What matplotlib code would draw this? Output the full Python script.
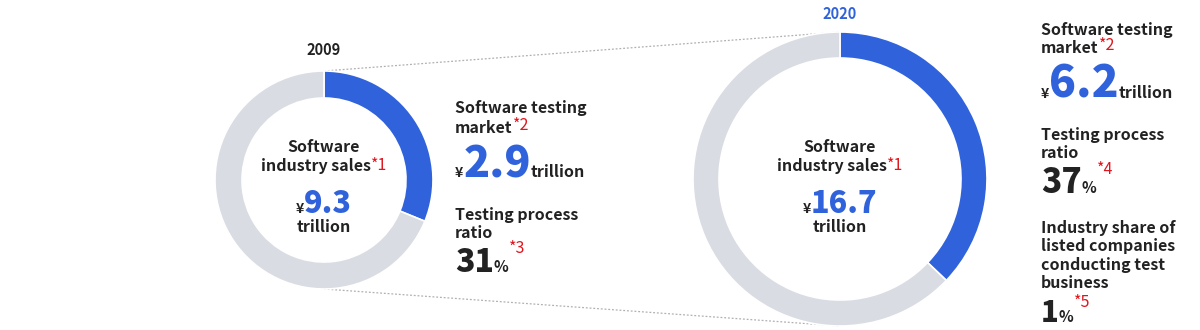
import matplotlib
matplotlib.use("Agg")
import matplotlib.pyplot as plt

plt.rcParams['font.family'] = ['Noto Sans CJK JP', 'DejaVu Sans']

# --- data ---
years = ['2009', '2020']
industry_sales = [9.3, 16.7]       # trillion yen
testing_market = [2.9, 6.2]        # trillion yen
testing_ratio = [31, 37]           # %
listed_share = 1                   # %

BLUE = '#3063DB'
GRAY = '#D9DCE3'
DARK = '#222222'
RED = '#E0161E'

fig = plt.figure(figsize=(12, 3.3), dpi=100)
ax = fig.add_axes([0, 0, 1, 1])

H = 330
centers = [(324, H - 180), (840, H - 179)]
radii = [109, 147]
rings = [27, 26]

for i in range(2):
    share = testing_market[i]
    rest = industry_sales[i] - testing_market[i]
    ax.pie([share, rest], colors=[BLUE, GRAY], startangle=90, counterclock=False,
           center=centers[i], radius=radii[i],
           wedgeprops=dict(width=rings[i], edgecolor='white', linewidth=1.2))

ax.set_xlim(0, 1200)
ax.set_ylim(0, H)
ax.set_aspect('equal')
ax.axis('off')

# dotted connectors between the two donuts
for sgn in (1, -1):
    ax.plot([centers[0][0], centers[1][0]],
            [centers[0][1] + sgn * radii[0], centers[1][1] + sgn * radii[1]],
            color='#B0B0B0', lw=0.9, ls=(0, (1.5, 1.5)), zorder=0)

ax.text(centers[0][0], H - 50, years[0], ha='center', va='center',
        fontsize=10.5, fontweight='bold', color=DARK)
ax.text(centers[1][0], H - 14, years[1], ha='center', va='center',
        fontsize=10.5, fontweight='bold', color=BLUE)

fig.canvas.draw()
rend = fig.canvas.get_renderer()


def run(x, y_img, parts, ha='left'):
    # parts: (text, size, color, raise_px, weight)
    objs = []
    for s, size, color, dy, w in parts:
        objs.append(ax.text(0, H - y_img + dy, s, fontsize=size, color=color,
                            fontweight=w, ha='left', va='baseline'))
    widths = [t.get_window_extent(rend).width for t in objs]
    x0 = x - sum(widths) / 2 if ha == 'center' else x
    for t, w in zip(objs, widths):
        t.set_x(x0)
        x0 += w


FS = 11.5
AS = 11.5   # footnote marker size
for i in range(2):
    cx = centers[i][0]
    run(cx, 152, [('Software', FS, DARK, 0, 'bold')], 'center')
    run(cx, 171, [('industry sales', FS, DARK, 0, 'bold'),
                  ('*1', AS, RED, 1, 'normal')], 'center')
    run(cx, 213, [('¥', 10, DARK, 0, 'bold'),
                  (f'{industry_sales[i]}', 22, BLUE, 0, 'heavy')], 'center')
    run(cx, 232, [('trillion', FS, DARK, 0, 'bold')], 'center')

# 2009 side block
bx = 455
run(bx, 113, [('Software testing', FS, DARK, 0, 'bold')])
run(bx, 133, [('market', FS, DARK, 0, 'bold'), ('*2', AS, RED, 3, 'normal')])
run(bx, 177, [('¥', 10, DARK, 0, 'bold'), (f'{testing_market[0]}', 31, BLUE, 0, 'heavy'),
              ('trillion', FS, DARK, 0, 'bold')])
run(bx, 220, [('Testing process', FS, DARK, 0, 'bold')])
run(bx, 238, [('ratio', FS, DARK, 0, 'bold')])
run(bx, 272, [(f'{testing_ratio[0]}', 23, DARK, 0, 'heavy'), ('%', 11, DARK, 0, 'bold'),
              ('*3', AS, RED, 19, 'normal')])

# 2020 side block
bx = 1041
run(bx, 35, [('Software testing', FS, DARK, 0, 'bold')])
run(bx, 53, [('market', FS, DARK, 0, 'bold'), ('*2', AS, RED, 3, 'normal')])
run(bx, 98, [('¥', 10, DARK, 0, 'bold'), (f'{testing_market[1]}', 32, BLUE, 0, 'heavy'),
             ('trillion', FS, DARK, 0, 'bold')])
run(bx, 140, [('Testing process', FS, DARK, 0, 'bold')])
run(bx, 158, [('ratio', FS, DARK, 0, 'bold')])
run(bx, 193, [(f'{testing_ratio[1]}', 24, DARK, 0, 'heavy'), ('%', 11, DARK, 0, 'bold'),
              ('*4', AS, RED, 19, 'normal')])
for k, line in enumerate(['Industry share of', 'listed companies',
                          'conducting test', 'business']):
    run(bx, 233 + 18.3 * k, [(line, FS, DARK, 0, 'bold')])
run(bx, 322, [(f'{listed_share}', 21, DARK, 0, 'heavy'), ('%', 11, DARK, 0, 'bold'),
              ('*5', AS, RED, 15, 'normal')])

fig.savefig('out.png', dpi=100, facecolor='white')
